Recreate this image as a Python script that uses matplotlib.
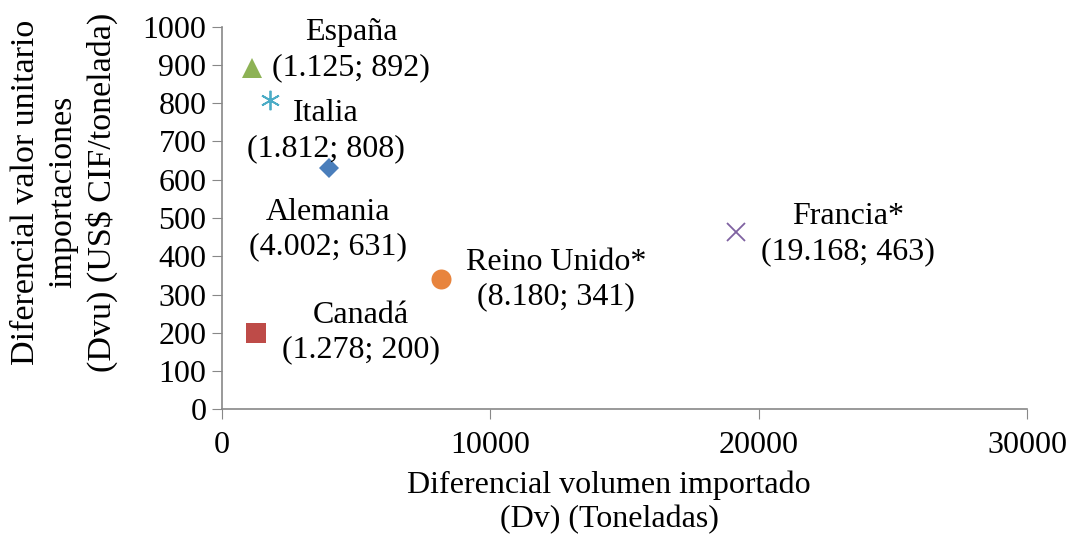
#!/usr/bin/env python

import matplotlib
matplotlib.use('Agg')
import matplotlib.pyplot as plt

paises = ['España', 'Italia', 'Alemania', 'Canadá', 'Reino Unido*', 'Francia*']
dv = [1125, 1812, 4002, 1278, 8180, 19168]
dvu = [892, 808, 631, 200, 341, 463]
etiquetas = ['(1.125; 892)', '(1.812; 808)', '(4.002; 631)',
             '(1.278; 200)', '(8.180; 341)', '(19.168; 463)']

marcadores = ['^', (6, 2, 0), 'D', 's', 'o', 'x']
tamanos = [14.4, 14, 9.7, 14.4, 14.4, 13]
colores = ['#8DB255', '#4BACC6', '#4A7EBB', '#BE4B48', '#E8843D', '#7F62A1']
# posicion del centro de cada etiqueta (coordenadas de datos)
pos_etq = [(4820, 939), (3890, 727), (3960, 469), (5190, 200), (12460, 338), (23340, 458)]

plt.rc('font', family = 'Liberation Serif', size = 23)
fig = plt.figure(figsize = (10.7, 5.35), dpi = 100)
ax = fig.add_axes([0.2072, 0.235, 0.7526, 0.7151])

for x, y, m, s, c in zip(dv, dvu, marcadores, tamanos, colores):
    mew = 1.3 if m in ('x', (6, 2, 0)) else 0
    ax.plot(x, y, linestyle = 'none', marker = m, markersize = s,
            color = c, markeredgewidth = mew)

for nombre, etq, (px, py) in zip(paises, etiquetas, pos_etq):
    ax.text(px, py, nombre + '\n' + etq, ha = 'center', va = 'center',
            linespacing = 1.25)

ax.set_xlim(0, 30000)
ax.set_ylim(0, 1000)
ax.set_xticks([0, 10000, 20000, 30000])
ax.set_yticks(range(0, 1001, 100))
for lado in ['top', 'right']:
    ax.spines[lado].set_visible(False)
for lado in ['left', 'bottom']:
    ax.spines[lado].set_color('#888888')
    ax.spines[lado].set_linewidth(1.2)
ax.tick_params(axis = 'y', direction = 'out', length = 7, color = '#888888', pad = 4)
ax.tick_params(axis = 'x', direction = 'out', length = 7, color = '#888888', pad = 9)

fig.text(64/1070, 1 - 192/535,
         'Diferencial valor unitario\nimportaciones\n(Dvu) (US$ CIF/tonelada)',
         rotation = 90, ha = 'center', va = 'center', linespacing = 1.3,
         fontsize = 24.5)
fig.text(609/1070, 1 - 502/535,
         'Diferencial volumen importado\n(Dv) (Toneladas)',
         ha = 'center', va = 'center', linespacing = 1.22)

fig.savefig('out.png')
